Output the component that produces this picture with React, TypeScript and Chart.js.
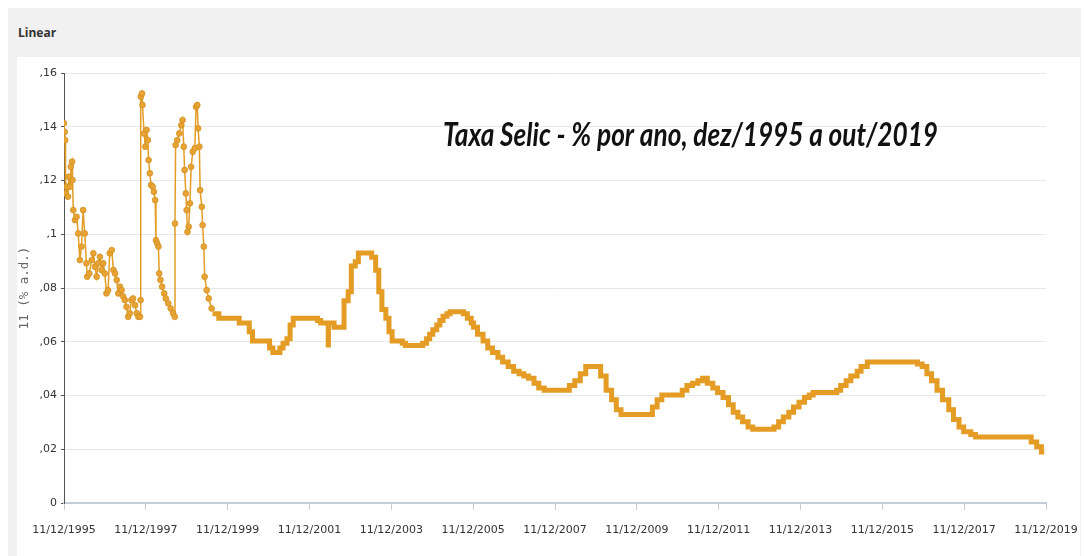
import React, { useEffect, useRef } from "react";
import { Chart, registerables } from "chart.js";
Chart.register(...registerables);

// X axis tick labels (dd/mm/yyyy)
const tickLabels = [
  "11/12/1995", "11/12/1997", "11/12/1999", "11/12/2001", "11/12/2003",
  "11/12/2005", "11/12/2007", "11/12/2009", "11/12/2011", "11/12/2013",
  "11/12/2015", "11/12/2017", "11/12/2019",
];
const yTickValues = [0, 0.02, 0.04, 0.06, 0.08, 0.1, 0.12, 0.14, 0.16];
const yTickLabels = ["0", ",02", ",04", ",06", ",08", ",1", ",12", ",14", ",16"];

// Volatile period 1995-1999 (decimal year, % a.d.)
const earlyYears = [
  1995.94, 1995.96, 1995.97, 1995.98, 1996.01, 1996.04, 1996.06, 1996.09, 1996.11, 1996.14,
  1996.15, 1996.17, 1996.21, 1996.25, 1996.29, 1996.33, 1996.37, 1996.41, 1996.45, 1996.49,
  1996.51, 1996.56, 1996.62, 1996.66, 1996.70, 1996.74, 1996.78, 1996.82, 1996.86, 1996.90,
  1996.94, 1996.98, 1997.02, 1997.06, 1997.11, 1997.15, 1997.19, 1997.23, 1997.27, 1997.31,
  1997.35, 1997.39, 1997.43, 1997.47, 1997.51, 1997.55, 1997.59, 1997.63, 1997.68, 1997.72,
  1997.76, 1997.80, 1997.815, 1997.82, 1997.85, 1997.86, 1997.90, 1997.93, 1997.96, 1997.99,
  1998.01, 1998.04, 1998.07, 1998.11, 1998.14, 1998.17, 1998.19, 1998.22, 1998.25, 1998.27,
  1998.30, 1998.34, 1998.39, 1998.43, 1998.49, 1998.55, 1998.61, 1998.65, 1998.655, 1998.67,
  1998.71, 1998.76, 1998.81, 1998.84, 1998.87, 1998.89, 1998.92, 1998.94, 1998.96, 1998.99,
  1999.02, 1999.05, 1999.09, 1999.14, 1999.17, 1999.20, 1999.22, 1999.25, 1999.27, 1999.31,
  1999.33, 1999.36, 1999.38, 1999.43, 1999.48, 1999.55,
];
const earlyRates = [
  0.1413, 0.1381, 0.1350, 0.1152, 0.1177, 0.1140, 0.1214, 0.1177, 0.1251, 0.1270,
  0.1202, 0.1090, 0.1053, 0.1065, 0.1003, 0.0904, 0.0954, 0.1090, 0.1003, 0.0892,
  0.0842, 0.0854, 0.0904, 0.0929, 0.0879, 0.0842, 0.0892, 0.0916, 0.0867, 0.0892,
  0.0854, 0.0780, 0.0792, 0.0929, 0.0941, 0.0867, 0.0854, 0.0830, 0.0780, 0.0805,
  0.0792, 0.0768, 0.0755, 0.0730, 0.0693, 0.0706, 0.0755, 0.0761, 0.0736, 0.0706,
  0.0693, 0.0693, 0.0755, 0.1512, 0.1524, 0.1481, 0.1375, 0.1326, 0.1388, 0.1350,
  0.1276, 0.1227, 0.1183, 0.1177, 0.1158, 0.1127, 0.0978, 0.0966, 0.0954, 0.0854,
  0.0830, 0.0805, 0.0780, 0.0761, 0.0743, 0.0724, 0.0706, 0.0693, 0.1040, 0.1332,
  0.1350, 0.1375, 0.1406, 0.1425, 0.1326, 0.1239, 0.1152, 0.1090, 0.1009, 0.1028,
  0.1115, 0.1251, 0.1307, 0.1320, 0.1474, 0.1481, 0.1394, 0.1326, 0.1164, 0.1102,
  0.1034, 0.0954, 0.0842, 0.0792, 0.0761, 0.0724,
];

// Step period: date a level starts, daily rate (% a.d.)
const stepDates = [
  "1999-07-29", "1999-09-23", "2000-03-23", "2000-06-21", "2000-07-20", "2000-12-20",
  "2001-01-18", "2001-03-22", "2001-04-19", "2001-05-24", "2001-06-21", "2001-07-19",
  "2002-02-21", "2002-03-21", "2002-05-27", "2002-05-29", "2002-07-18", "2002-10-15",
  "2002-11-21", "2002-12-19", "2003-01-23", "2003-02-20", "2003-06-19", "2003-07-24",
  "2003-08-21", "2003-09-18", "2003-10-23", "2003-11-20", "2003-12-18", "2004-03-18",
  "2004-04-15", "2004-09-16", "2004-10-21", "2004-11-18", "2004-12-16", "2005-01-20",
  "2005-02-17", "2005-03-17", "2005-04-21", "2005-05-19", "2005-09-15", "2005-10-20",
  "2005-11-24", "2005-12-15", "2006-01-19", "2006-03-09", "2006-04-20", "2006-06-01",
  "2006-07-20", "2006-08-31", "2006-10-19", "2006-12-07", "2007-01-25", "2007-03-08",
  "2007-04-19", "2007-06-07", "2007-07-19", "2007-09-06", "2008-04-17", "2008-06-05",
  "2008-07-24", "2008-09-11", "2009-01-22", "2009-03-12", "2009-04-30", "2009-06-11",
  "2009-07-23", "2010-04-29", "2010-06-10", "2010-07-22", "2011-01-20", "2011-03-03",
  "2011-04-21", "2011-06-09", "2011-07-21", "2011-09-01", "2011-10-20", "2011-12-01",
  "2012-01-19", "2012-03-08", "2012-04-19", "2012-05-31", "2012-07-12", "2012-08-30",
  "2012-10-11", "2013-04-18", "2013-05-30", "2013-07-11", "2013-08-29", "2013-10-10",
  "2013-11-28", "2014-01-16", "2014-02-27", "2014-04-03", "2014-10-30", "2014-12-04",
  "2015-01-22", "2015-03-05", "2015-04-30", "2015-06-04", "2015-07-30", "2016-10-20",
  "2016-12-01", "2017-01-12", "2017-02-23", "2017-04-13", "2017-06-01", "2017-07-27",
  "2017-09-07", "2017-10-26", "2017-12-07", "2018-02-08", "2018-03-22", "2019-08-01",
  "2019-09-19", "2019-10-31", "2019-11-25",
];
const stepRates = [
  0.0704, 0.0687, 0.0670, 0.0637, 0.0603, 0.0577,
  0.0560, 0.0577, 0.0594, 0.0611, 0.0662, 0.0687,
  0.0679, 0.0670, 0.0588, 0.0670, 0.0654, 0.0753,
  0.0786, 0.0882, 0.0898, 0.0930, 0.0914, 0.0866,
  0.0786, 0.0720, 0.0687, 0.0637, 0.0603, 0.0594,
  0.0586, 0.0594, 0.0611, 0.0628, 0.0645, 0.0662,
  0.0679, 0.0695, 0.0704, 0.0712, 0.0704, 0.0687,
  0.0670, 0.0654, 0.0628, 0.0603, 0.0577, 0.0560,
  0.0542, 0.0525, 0.0508, 0.0490, 0.0481, 0.0473,
  0.0464, 0.0446, 0.0428, 0.0420, 0.0437, 0.0455,
  0.0481, 0.0508, 0.0473, 0.0420, 0.0384, 0.0347,
  0.0329, 0.0357, 0.0384, 0.0402, 0.0420, 0.0437,
  0.0446, 0.0455, 0.0464, 0.0446, 0.0428, 0.0411,
  0.0393, 0.0366, 0.0338, 0.0320, 0.0302, 0.0283,
  0.0274, 0.0283, 0.0302, 0.0320, 0.0338, 0.0357,
  0.0375, 0.0393, 0.0402, 0.0411, 0.0420, 0.0437,
  0.0455, 0.0473, 0.0490, 0.0508, 0.0525, 0.0517,
  0.0508, 0.0481, 0.0455, 0.0420, 0.0384, 0.0347,
  0.0311, 0.0283, 0.0265, 0.0255, 0.0246, 0.0227,
  0.0209, 0.0190, 0.0190,
];

const chartTitle = "Taxa Selic - % por ano, dez/1995 a out/2019";
const yAxisTitle = "11 (% a.d.)";
const panelTitle = "Linear";

const LINE = "#e49c25";

function isoToYear(iso: string): number {
  const [y, m, d] = iso.split("-").map(Number);
  const s = Date.UTC(y, 0, 1);
  const e = Date.UTC(y + 1, 0, 1);
  return y + (Date.UTC(y, m - 1, d) - s) / (e - s);
}
function dmyToYear(dmy: string): number {
  const [d, m, y] = dmy.split("/");
  return isoToYear(`${y}-${m}-${d}`);
}

const tickValues = tickLabels.map(dmyToYear);

const titlePlugin = {
  id: "bigTitle",
  afterDraw(chart: any) {
    const { ctx, chartArea } = chart;
    const w = chartArea.right - chartArea.left;
    const h = chartArea.bottom - chartArea.top;
    const x = chartArea.left + w * 0.386;
    const y = chartArea.top + h * 0.146;
    ctx.save();
    ctx.font = "italic bold 33px Lato";
    ctx.textBaseline = "middle";
    ctx.textAlign = "left";
    ctx.fillStyle = "#111";
    ctx.fillText(chartTitle, x, y, 495);
    ctx.restore();
  },
};

export default function App() {
  const ref = useRef<HTMLCanvasElement | null>(null);
  useEffect(() => {
    if (!ref.current) return;
    const early = earlyYears.map((x, i) => ({ x, y: earlyRates[i] }));
    const steps = stepDates.map((d, i) => ({ x: isoToYear(d), y: stepRates[i] }));
    const chart = new Chart(ref.current, {
      type: "line",
      data: {
        datasets: [
          {
            data: early,
            borderColor: LINE,
            borderWidth: 1.5,
            pointRadius: 2.9,
            pointBackgroundColor: "#e8a335",
            pointBorderColor: "#d2901f",
            pointBorderWidth: 0.8,
            tension: 0,
          },
          {
            data: steps,
            stepped: true,
            borderColor: LINE,
            borderWidth: 5,
            pointRadius: 0,
            borderJoinStyle: "miter",
            borderCapStyle: "butt",
          },
        ],
      } as any,
      options: {
        animation: false,
        responsive: false,
        events: [],
        layout: { padding: { left: 0, right: 34, top: 16, bottom: 0 } },
        plugins: { legend: { display: false }, tooltip: { enabled: false } },
        scales: {
          x: {
            type: "linear",
            min: tickValues[0],
            max: tickValues[tickValues.length - 1],
            afterBuildTicks: (s: any) => {
              s.ticks = tickValues.map((v) => ({ value: v }));
            },
            afterFit: (s: any) => {
              s.height = 53;
              s.paddingLeft = 0;
              s.paddingRight = 0;
            },
            ticks: {
              autoSkip: false,
              maxRotation: 0,
              padding: 14,
              color: "#333",
              font: { family: "DejaVu Sans", size: 11 },
              callback: (_v: any, i: number) => tickLabels[i],
            },
            grid: { drawOnChartArea: false, tickLength: 7, color: "#c5ced6", lineWidth: 1 },
            border: { color: "#c5ced6", width: 2 },
          },
          y: {
            min: 0,
            max: 0.16,
            afterBuildTicks: (s: any) => {
              s.ticks = yTickValues.map((v) => ({ value: v }));
            },
            afterFit: (s: any) => {
              s.width = 47;
            },
            ticks: {
              padding: 4,
              color: "#333",
              font: { family: "DejaVu Sans", size: 11 },
              callback: (_v: any, i: number) => yTickLabels[i],
            },
            grid: { color: "#e8e8e8", tickLength: 3, tickColor: "#555" },
            border: { color: "#555", width: 1 },
            title: {
              display: true,
              text: yAxisTitle,
              color: "#666",
              padding: 0,
              font: { family: "DejaVu Sans Mono", size: 12.5 },
            },
          },
        },
      } as any,
      plugins: [titlePlugin],
    });
    return () => chart.destroy();
  }, []);

  return (
    <div style={{ position: "fixed", left: 0, top: 0, width: 1084, height: 556, background: "#fff", overflow: "hidden" }}>
      <div style={{ position: "absolute", left: 8, top: 8, width: 1073, height: 560, background: "#f1f1f1" }}>
        <div
          style={{
            position: "absolute",
            left: 10,
            top: 17,
            font: "bold 12px 'Open Sans'",
            color: "#333",
            lineHeight: "16px",
          }}
        >
          {panelTitle}
        </div>
        <div style={{ position: "absolute", left: 9, top: 49, width: 1063, height: 511, background: "#fff" }}>
          <canvas ref={ref} width={1063} height={499} style={{ display: "block" }} />
        </div>
      </div>
    </div>
  );
}
